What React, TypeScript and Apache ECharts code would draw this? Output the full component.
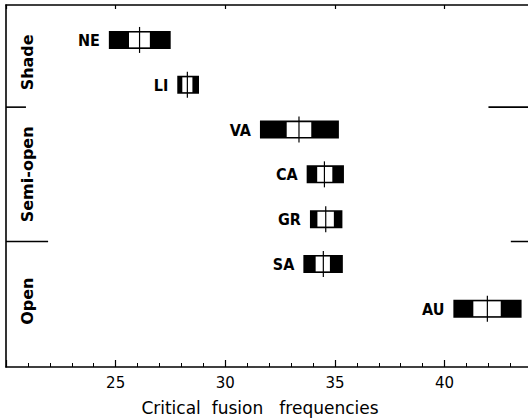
import React, { useEffect, useRef } from "react";
import * as echarts from "echarts";

// Species (rows, top to bottom) and their critical fusion frequency boxes
const species = ["NE", "LI", "VA", "CA", "GR", "SA", "AU"];
const lowOuter = [24.69, 27.81, 31.58, 33.71, 33.86, 33.56, 40.4];
const lowInner = [25.61, 28.04, 32.8, 34.19, 34.2, 34.12, 41.31];
const means = [26.09, 28.27, 33.36, 34.52, 34.58, 34.47, 41.95];
const highInner = [26.56, 28.5, 33.92, 34.88, 34.95, 34.77, 42.56];
const highOuter = [27.51, 28.8, 35.18, 35.41, 35.34, 35.36, 43.51];

// Habitat groups: first and last row index of each group
const habitats = ["Shade", "Semi-open", "Open"];
const habitatFirstRow = [0, 2, 5];
const habitatLastRow = [1, 4, 6];

// Short separator strokes between groups (x values where they end / start)
const separatorLeftEnd = [20.91, 21.92];
const separatorRightStart = [42.0, 43.02];

const xTickLabels = [25, 30, 35, 40];
const xTitle = "Critical  fusion   frequencies";

const X_MIN = 20;
const X_MAX = 45;
const Y_MIN = -0.78;
const Y_MAX = 7.3;
const FONT = "DejaVu Sans";
const FONT_COND = "'DejaVu Sans Condensed', 'DejaVu Sans'";
const PX_PER_UNIT = 21.93;

export default function App() {
  const ref = useRef<HTMLDivElement>(null);

  useEffect(() => {
    if (!ref.current) return;
    const chart = echarts.init(ref.current, null, { renderer: "svg" });

    const boxData = species.map((_, i) => [
      i,
      lowOuter[i],
      lowInner[i],
      means[i],
      highInner[i],
      highOuter[i],
    ]);

    const boundaries = habitats.slice(0, -1).map(
      (_, g) => (habitatLastRow[g] + habitatFirstRow[g + 1]) / 2
    );
    const sepData = boundaries.map((b, k) => [
      b,
      separatorLeftEnd[k],
      separatorRightStart[k],
    ]);

    // label placement: centred on the group's rows, the last one nudged into its open region
    const labelShift = [0, 0, 0.33];
    const groupData = habitats.map((_, g) => [
      (habitatFirstRow[g] + habitatLastRow[g]) / 2 + labelShift[g],
      g,
    ]);

    const BOX_H = 18;

    const option: any = {
      animation: false,
      backgroundColor: "#fff",
      grid: { left: 6, top: 5, width: (X_MAX - X_MIN) * PX_PER_UNIT, height: 362, containLabel: false },
      graphic: [
        {
          type: "text",
          x: 260,
          y: 408,
          style: {
            text: xTitle,
            align: "center",
            verticalAlign: "middle",
            fontSize: 17,
            fontFamily: FONT,
            fill: "#000",
          },
        },
      ],
      xAxis: [
        {
          type: "value",
          position: "bottom",
          min: X_MIN,
          max: X_MAX,
          interval: 5,
          axisLine: { show: true, onZero: false, lineStyle: { color: "#000", width: 1.6 } },
          axisTick: { show: true, inside: true, length: 7, lineStyle: { color: "#000", width: 1.2 } },
          minorTick: { show: true, splitNumber: 5, length: 4, lineStyle: { color: "#000", width: 1 } },
          splitLine: { show: false },
          minorSplitLine: { show: false },
          axisLabel: {
            color: "#000",
            fontSize: 15,
            fontFamily: FONT,
            margin: 8,
            showMinLabel: false,
            showMaxLabel: false,
            formatter: (v: number) => (xTickLabels.includes(v) ? String(v) : ""),
          },
        },
        {
          type: "value",
          position: "top",
          min: X_MIN,
          max: X_MAX,
          interval: 5,
          axisLine: { show: true, onZero: false, lineStyle: { color: "#000", width: 1.6 } },
          axisTick: { show: true, inside: true, length: 4, lineStyle: { color: "#000", width: 1.2 } },
          axisLabel: { show: false },
          splitLine: { show: false },
        },
      ],
      yAxis: {
        type: "value",
        min: Y_MIN,
        max: Y_MAX,
        inverse: true,
        axisLine: { show: true, onZero: false, lineStyle: { color: "#000", width: 1.6 } },
        axisTick: { show: false },
        axisLabel: { show: false },
        splitLine: { show: false },
      },
      series: [
        {
          type: "custom",
          xAxisIndex: 0,
          yAxisIndex: 0,
          data: boxData,
          encode: { x: [1, 2, 3, 4, 5], y: 0 },
          clip: false,
          renderItem: (params: any, api: any) => {
            const row = api.value(0);
            const p0 = api.coord([api.value(1), row]);
            const p1 = api.coord([api.value(2), row]);
            const pm = api.coord([api.value(3), row]);
            const p2 = api.coord([api.value(4), row]);
            const p3 = api.coord([api.value(5), row]);
            const yc = p0[1];
            return {
              type: "group",
              children: [
                {
                  type: "rect",
                  shape: { x: p0[0], y: yc - BOX_H / 2, width: p3[0] - p0[0], height: BOX_H },
                  style: { fill: "#000" },
                },
                {
                  type: "rect",
                  shape: { x: p1[0], y: yc - BOX_H / 2 + 1.6, width: p2[0] - p1[0], height: BOX_H - 3.2 },
                  style: { fill: "#fff" },
                },
                {
                  type: "line",
                  shape: { x1: pm[0], y1: yc - BOX_H / 2 - 4, x2: pm[0], y2: yc + BOX_H / 2 + 4 },
                  style: { stroke: "#000", lineWidth: 1.2 },
                },
                {
                  type: "text",
                  style: {
                    text: species[params.dataIndex],
                    x: p0[0] - 9,
                    y: yc + 0.5,
                    align: "right",
                    verticalAlign: "middle",
                    fontSize: 16,
                    fontWeight: "bold",
                    fontFamily: FONT_COND,
                    fill: "#000",
                  },
                },
              ],
            };
          },
        },
        {
          type: "custom",
          xAxisIndex: 0,
          yAxisIndex: 0,
          data: sepData,
          encode: { x: [1, 2], y: 0 },
          clip: false,
          renderItem: (params: any, api: any) => {
            const cs = params.coordSys;
            const row = api.value(0);
            const a = api.coord([api.value(1), row]);
            const b = api.coord([api.value(2), row]);
            return {
              type: "group",
              children: [
                {
                  type: "line",
                  shape: { x1: cs.x, y1: a[1], x2: a[0], y2: a[1] },
                  style: { stroke: "#000", lineWidth: 1.6 },
                },
                {
                  type: "line",
                  shape: { x1: b[0], y1: b[1], x2: cs.x + cs.width, y2: b[1] },
                  style: { stroke: "#000", lineWidth: 1.6 },
                },
              ],
            };
          },
        },
        {
          type: "custom",
          xAxisIndex: 0,
          yAxisIndex: 0,
          data: groupData,
          encode: { y: 0 },
          clip: false,
          renderItem: (params: any, api: any) => {
            const cs = params.coordSys;
            const p = api.coord([X_MIN, api.value(0)]);
            return {
              type: "text",
              x: cs.x + 21,
              y: p[1],
              rotation: Math.PI / 2,
              style: {
                text: habitats[api.value(1)],
                x: 0,
                y: 0,
                align: "center",
                verticalAlign: "middle",
                fontSize: 16,
                fontWeight: "bold",
                fontFamily: FONT,
                fill: "#000",
              },
            };
          },
        },
      ],
    };

    chart.setOption(option);
    return () => chart.dispose();
  }, []);

  return (
    <div
      style={{
        position: "absolute",
        left: 0,
        top: 0,
        width: 528,
        height: 420,
        overflow: "hidden",
        background: "#fff",
      }}
    >
      <div ref={ref} style={{ width: 560, height: 420 }} />
    </div>
  );
}
